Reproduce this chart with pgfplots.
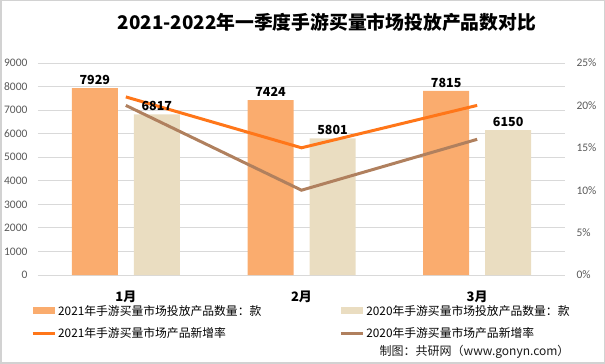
\documentclass[border=0pt]{standalone}
\usepackage{fontspec}
\setmainfont{Carlito}
\newfontfamily\cjk{Noto Sans CJK SC}
\usepackage{pgfplots}
\pgfplotsset{compat=1.18}
\definecolor{barA}{RGB}{250,172,110}
\definecolor{barB}{RGB}{234,221,193}
\definecolor{lineA}{RGB}{255,118,25}
\definecolor{lineB}{RGB}{176,128,94}
\definecolor{gridc}{RGB}{217,217,217}
\definecolor{tickc}{RGB}{89,89,89}
\definecolor{framec}{RGB}{210,210,210}
\pgfplotsset{
  common/.style={
    at={(38pt,89pt)}, anchor=south west,
    scale only axis, width=527pt, height=212pt,
    xmin=-0.5, xmax=2.5,
    /pgf/number format/1000 sep={},
    /pgf/number format/assume math mode=true,
    scaled y ticks=false,
    major tick length=0pt,
  }
}
\begin{document}
\begin{tikzpicture}
\useasboundingbox (0pt,0pt) rectangle (605pt,364pt);
\draw[color=framec, line width=1.5pt] (0.75pt,0.75pt) rectangle (604.25pt,363.25pt);
\node[font=\cjk\bfseries\fontsize{18.8}{20}\selectfont] at (327pt,342pt) {2021-2022年一季度手游买量市场投放产品数对比};
\node[anchor=east, font=\cjk\fontsize{12}{14}\selectfont, text=black!90] at (573pt,12pt) {制图：共研网（www.gonyn.com）};
\begin{axis}[
  common,
  ymin=0, ymax=9000,
  ybar=16pt, bar width=46pt,
  xtick={0,1,2}, xticklabels={1月,2月,3月},
  xticklabel style={font=\cjk\bfseries\fontsize{13}{14}\selectfont, text=black, yshift=-12pt},
  ytick={0,1000,...,9000},
  yticklabel style={font=\fontsize{11.5}{13}\selectfont, text=tickc, xshift=-7pt},
  axis line style={draw=none},
  ymajorgrids, grid style={gridc, line width=1pt},
  legend columns=2,
  legend cell align=left,
  legend style={draw=none, fill=none, at={(-0.019,-0.122)}, anchor=north west,
    font=\cjk\fontsize{11.8}{13}\selectfont,
    /tikz/every even column/.append style={column sep=76pt},
    row sep=7pt},
]
\addplot[fill=barA, draw=none, legend image code/.code={\fill[barA] (0pt,-3.5pt) rectangle (22pt,3.5pt);}] coordinates {(0,7929) (1,7424) (2,7815)};
\addlegendentry{2021年手游买量市场投放产品数量：款}
\addplot[fill=barB, draw=none, legend image code/.code={\fill[barB] (0pt,-3.5pt) rectangle (22pt,3.5pt);}] coordinates {(0,6817) (1,5801) (2,6150)};
\addlegendentry{2020年手游买量市场投放产品数量：款}
\addlegendimage{legend image code/.code={\draw[lineA, line width=3pt] (0pt,0pt) -- (22pt,0pt);}}
\addlegendentry{2021年手游买量市场产品新增率}
\addlegendimage{legend image code/.code={\draw[lineB, line width=3pt] (0pt,0pt) -- (22pt,0pt);}}
\addlegendentry{2020年手游买量市场产品新增率}
\end{axis}
\begin{axis}[
  common,
  ymin=0, ymax=25,
  axis x line=none,
  axis y line*=right,
  y axis line style={draw=none},
  ytick={0,5,...,25},
  yticklabel={\pgfmathprintnumber{\tick}\%},
  yticklabel style={font=\fontsize{11.5}{13}\selectfont, text=tickc, xshift=8pt},
]
\addplot[lineA, line width=3pt, no markers, sharp plot] coordinates {(0,21) (1,15) (2,20)};
\addplot[lineB, line width=3pt, no markers, sharp plot] coordinates {(0,20) (1,10) (2,16)};
\end{axis}
\begin{axis}[
  common,
  ymin=0, ymax=9000,
  hide axis,
  ybar=16pt, bar width=46pt,
  nodes near coords,
  every node near coord/.append style={font=\cjk\bfseries\fontsize{12.5}{14}\selectfont, text=black},
]
\addplot[draw=none, fill=none] coordinates {(0,7929) (1,7424) (2,7815)};
\addplot[draw=none, fill=none] coordinates {(0,6817) (1,5801) (2,6150)};
\end{axis}
\end{tikzpicture}
\end{document}
